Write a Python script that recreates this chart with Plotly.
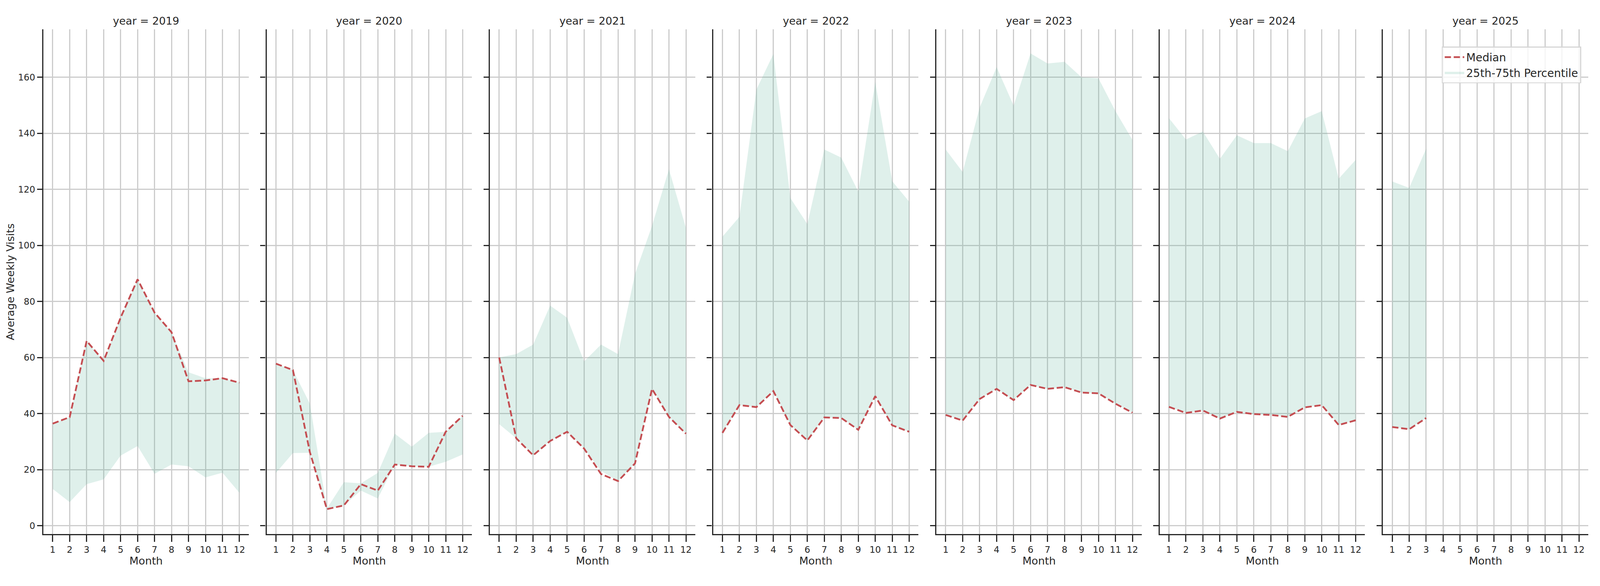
import plotly.graph_objects as go
from plotly.subplots import make_subplots

# data
years = [2019, 2020, 2021, 2022, 2023, 2024, 2025]
months = [1, 2, 3, 4, 5, 6, 7, 8, 9, 10, 11, 12]

median_2019 = [36.4, 38.7, 65.9, 58.8, 74.2, 87.9, 76.0, 69.0, 51.5, 51.8, 52.6, 51.0]
q25_2019 = [13.1, 8.4, 14.8, 16.5, 25.0, 28.4, 18.5, 21.8, 21.2, 17.2, 18.9, 11.7]
q75_2019 = [36.4, 38.7, 65.9, 58.8, 74.2, 87.9, 76.0, 69.0, 54.7, 52.6, 52.6, 51.0]

median_2020 = [57.8, 55.5, 26.2, 5.9, 7.2, 14.8, 12.5, 21.8, 21.2, 21.0, 33.5, 39.2]
q25_2020 = [18.8, 25.9, 26.0, 5.9, 7.2, 12.5, 9.7, 21.8, 21.2, 21.0, 22.8, 25.4]
q75_2020 = [57.8, 55.5, 43.5, 6.1, 15.5, 15.1, 18.8, 32.8, 28.2, 33.1, 33.5, 39.2]

median_2021 = [60.0, 31.2, 25.1, 30.2, 33.5, 27.5, 18.4, 15.9, 22.2, 48.8, 38.8, 32.8]
q25_2021 = [36.2, 31.2, 25.1, 30.2, 33.5, 27.5, 19.5, 15.9, 22.2, 48.8, 38.8, 32.8]
q75_2021 = [60.0, 61.2, 64.6, 78.5, 74.2, 58.6, 64.6, 61.2, 89.8, 106.9, 127.2, 106.2]

median_2022 = [33.1, 43.0, 42.3, 48.0, 35.9, 30.4, 38.6, 38.4, 34.2, 46.2, 35.8, 33.5]
q25_2022 = [33.1, 43.0, 42.3, 48.0, 35.9, 30.4, 38.6, 38.4, 34.2, 46.2, 35.8, 33.5]
q75_2022 = [103.1, 110.2, 155.6, 168.3, 116.9, 107.6, 134.2, 131.3, 119.2, 158.3, 122.9, 115.6]

median_2023 = [39.5, 37.5, 45.2, 48.8, 44.8, 50.2, 48.8, 49.4, 47.5, 47.2, 43.5, 40.3]
q25_2023 = [39.5, 37.5, 45.2, 48.8, 44.8, 50.2, 48.8, 49.4, 47.5, 47.2, 43.5, 40.3]
q75_2023 = [134.2, 126.2, 149.2, 163.6, 149.9, 168.5, 164.9, 165.5, 160.0, 159.6, 147.9, 137.6]

median_2024 = [42.4, 40.2, 41.1, 38.2, 40.6, 39.8, 39.5, 38.8, 42.2, 43.0, 35.9, 37.6]
q25_2024 = [42.4, 40.2, 41.1, 38.2, 40.6, 39.8, 39.5, 38.8, 42.2, 43.0, 35.9, 37.6]
q75_2024 = [145.4, 137.8, 140.6, 130.9, 139.3, 136.5, 136.5, 133.6, 145.3, 147.9, 123.8, 130.5]

median_2025 = [35.2, 34.4, 38.4]
q25_2025 = [35.2, 34.4, 38.4]
q75_2025 = [122.8, 120.5, 134.5]

yticks = [0, 20, 40, 60, 80, 100, 120, 140, 160]

medians = [median_2019, median_2020, median_2021, median_2022, median_2023, median_2024, median_2025]
q25s = [q25_2019, q25_2020, q25_2021, q25_2022, q25_2023, q25_2024, q25_2025]
q75s = [q75_2019, q75_2020, q75_2021, q75_2022, q75_2023, q75_2024, q75_2025]

DARK = "#262626"
GRID = "#cccccc"
RED = "#c44e52"
FILL = "rgba(95,180,155,0.2)"
FONT = "DejaVu Sans"

# browser viewport is 4096x1500 css px and the page body has an 8px margin,
# so reference x positions are squeezed by SX and everything shifted by OFF
SX = 4096 / 5250
OFF = 8
FS = 0.85  # font scale
W, H = 4096 - 2 * OFF, 1500 - 2 * OFF

ml = 142 * SX - OFF
mr = W - (5211 * SX - OFF)
mt = 75 - OFF
mb = H - (1367 - OFF)
plot_w = W - ml - mr
plot_h = H - mt - mb

fig = make_subplots(rows=1, cols=7, horizontal_spacing=58.5 * SX / plot_w)

tickfont = dict(size=27 * FS, color=DARK, family=FONT)
labelfont = dict(size=32 * FS, color=DARK, family=FONT)

for i, yr in enumerate(years):
    col = i + 1
    x = months[:len(medians[i])]
    last = (i == len(years) - 1)
    # band: upper edge then lower edge reversed
    fig.add_trace(go.Scatter(
        x=x + x[::-1], y=q75s[i] + q25s[i][::-1],
        fill="toself", fillcolor=FILL, line=dict(width=0),
        mode="lines", name="25th-75th Percentile", legendgroup="band",
        legendrank=2, showlegend=last, hoverinfo="skip"),
        row=1, col=col)
    fig.add_trace(go.Scatter(
        x=x, y=medians[i], mode="lines", name="Median", legendgroup="median",
        legendrank=1, showlegend=last,
        line=dict(color=RED, width=4.5, dash="16px,7px")),
        row=1, col=col)

    fig.update_xaxes(
        range=[0.45, 12.55], tickmode="array", tickvals=months,
        showgrid=True, gridcolor=GRID, gridwidth=2.5,
        showline=True, linecolor=DARK, linewidth=3.2,
        ticks="outside", ticklen=17, tickwidth=3, tickcolor=DARK,
        tickfont=tickfont,
        title=dict(text="Month", font=labelfont, standoff=6),
        zeroline=False, automargin=False, row=1, col=col)
    fig.update_yaxes(
        range=[-3.0, 177.1], tickmode="array", tickvals=yticks,
        showgrid=True, gridcolor=GRID, gridwidth=2.5,
        showline=True, linecolor=DARK, linewidth=3.2,
        ticks="outside", ticklen=17 * SX, tickwidth=3, tickcolor=DARK,
        tickfont=tickfont, showticklabels=(i == 0),
        zeroline=False, automargin=False, row=1, col=col)

    fig.add_annotation(
        text=f"year = {yr}", xref=f"x{'' if col == 1 else col} domain", yref="paper",
        x=0.5, y=1, yanchor="middle", yshift=22, showarrow=False,
        font=labelfont)

# y axis title, centred at x=33 of the reference
fig.add_annotation(
    text="Average Weekly Visits", xref="paper", yref="paper",
    x=(33 * SX - OFF - ml) / plot_w, y=0.5, xanchor="center", yanchor="middle",
    textangle=-90, showarrow=False, font=labelfont)

fig.update_layout(
    width=W, height=H, template="none",
    paper_bgcolor="white", plot_bgcolor="white",
    margin=dict(l=ml, r=mr, t=mt, b=mb, autoexpand=False),
    font=dict(family=FONT, color=DARK),
    legend=dict(
        x=1 - 18 / plot_w, y=1 - 44 / plot_h, xanchor="right", yanchor="top",
        bgcolor="rgba(255,255,255,0.8)", bordercolor="#d6d6d6", borderwidth=2.5,
        font=dict(size=33 * FS, color=DARK, family=FONT), itemwidth=50,
        tracegroupgap=0),
)

fig.write_html("out.html")
